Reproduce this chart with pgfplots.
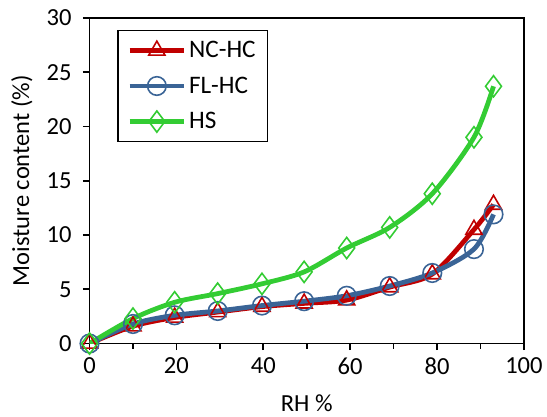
\documentclass[border=0pt]{standalone}
\usepackage{pgfplots}
\pgfplotsset{compat=1.18}
\usepackage{fontspec}
\setmainfont{Carlito}
\definecolor{ncred}{HTML}{C00000}
\definecolor{flblue}{HTML}{3A6496}
\definecolor{hsgreen}{HTML}{33CC33}

\begin{document}
\begin{tikzpicture}
\begin{axis}[
  scale only axis,
  width=327.5pt, height=245.5pt,
  xmin=0, xmax=100, ymin=0, ymax=30,
  xtick={0,20,...,100}, minor xtick={10,30,...,90},
  ytick={0,5,...,30},
  tick align=outside,
  tick pos=left,
  major tick length=5pt, minor tick length=4pt,
  every tick/.style={black, line width=1.2pt},
  axis line style={line width=1.2pt},
  /pgf/number format/assume math mode=true,
  tick label style={font=\fontsize{18.5}{21}\selectfont},
  xticklabel style={yshift=-2pt},
  yticklabel style={xshift=-5pt},
  label style={font=\fontsize{18.5}{21}\selectfont},
  xlabel={RH \%},
  ylabel={Moisture content (\%)},
  xlabel style={at={(rel axis cs:0.5,0)}, anchor=center, yshift=-45pt},
  ylabel style={at={(rel axis cs:0,0.5)}, anchor=center, yshift=51pt},
  legend style={at={(axis description cs:0.064,0.963)}, anchor=north west,
    draw=black, line width=1pt, font=\fontsize{19}{22}\selectfont,
    row sep=9pt, inner xsep=7pt, inner ysep=6pt},
  legend cell align=left,
  legend image code/.code={
    \draw[mark repeat=2, mark phase=2] plot coordinates {(0pt,0pt) (20.5pt,0pt) (41pt,0pt)};
  },
  every axis plot/.append style={smooth, tension=0.5, line width=3.6pt},
]
\addplot[ncred, mark=triangle, mark size=7pt, mark options={line width=1.2pt, solid}] coordinates {
  (0,0) (10,1.6) (19.6,2.4) (29.5,2.9) (39.7,3.4) (49.4,3.7) (59.2,4.0)
  (69.1,5.2) (78.9,6.4) (88.5,10.5) (93,12.8)
};
\addplot[flblue, mark=o, mark size=7pt, mark options={line width=1.2pt, solid}] coordinates {
  (0,0) (10,1.8) (19.6,2.6) (29.5,3.0) (39.7,3.5) (49.4,3.9) (59.2,4.4)
  (69.1,5.3) (78.9,6.5) (88.5,8.7) (93,11.9)
};
\addplot[hsgreen, mark=diamond, mark size=8pt, mark options={line width=1.2pt, solid}] coordinates {
  (0,0) (10,2.3) (19.6,3.8) (29.5,4.6) (39.7,5.5) (49.4,6.6) (59.2,8.8)
  (69.1,10.7) (78.9,13.8) (88.5,19.0) (93,23.7)
};
\legend{NC-HC, FL-HC, HS}
\end{axis}
\path[use as bounding box] ([xshift=-67.5pt,yshift=-54pt]current axis.south west) rectangle ([xshift=15pt,yshift=13.5pt]current axis.north east);
\end{tikzpicture}
\end{document}
